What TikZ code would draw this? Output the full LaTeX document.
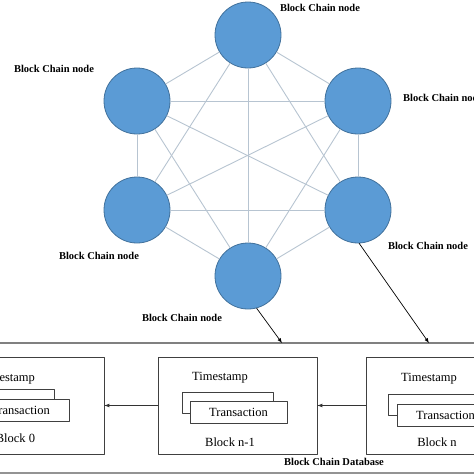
\documentclass[tikz,border=0pt]{standalone}
\usepackage{fontspec}
\setmainfont{Liberation Serif}
\usetikzlibrary{arrows, calc}

\definecolor{peerblue}{HTML}{5B9BD5}
\definecolor{peerrim}{HTML}{41719C}
\definecolor{linkgray}{HTML}{B7C4D1}
\definecolor{framegray}{HTML}{808080}

\begin{document}
\begin{tikzpicture}[x=1pt, y=-1pt, line cap=round, line join=round,
    peer/.style={circle, draw=peerrim, fill=peerblue, line width=0.8pt, minimum size=66pt, inner sep=0pt},
    peerlabel/.style={font=\fontsize{10.5}{12}\selectfont\bfseries, inner sep=0pt},
    blockbox/.style={draw=black!75, line width=0.7pt, minimum width=159pt, minimum height=97pt, inner sep=0pt},
    txback/.style={draw=black!75, line width=0.7pt, minimum width=91pt, minimum height=21pt, inner sep=0pt},
    txbox/.style={draw=black!75, fill=white, line width=0.7pt, minimum width=97pt, minimum height=22pt, inner sep=0pt, font=\fontsize{12.5}{14}\selectfont},
    blocktext/.style={font=\fontsize{12.5}{14}\selectfont, inner sep=0pt}]
    \useasboundingbox (0,0) rectangle (474,474);
    \clip (0,0) rectangle (474,474);

        % Peers
        \draw (248,35) node[peer] (T) {};
        \draw (137,101) node[peer] (UL) {};
        \draw (358,101) node[peer] (UR) {};
        \draw (137,210) node[peer] (LL) {};
        \draw (358,210) node[peer] (LR) {};
        \draw (248,276) node[peer] (B) {};

        % Links
        \foreach \source/\target in {T/UL, T/UR, T/LL, T/LR, T/B, UL/UR, UL/LL, UL/LR, UL/B, UR/LL, UR/LR, UR/B, LL/LR, LL/B, LR/B} {
                \draw[linkgray, line width=0.9pt] (\source) -- (\target);
            }

        \node[peerlabel] (labT) at (320,8) {Block Chain node};
        \node[peerlabel] (labUL) at (54,69) {Block Chain node};
        \node[peerlabel, anchor=west] (labUR) at (403,98) {Block Chain node};
        \node[peerlabel] (labLR) at (428,246) {Block Chain node};
        \node[peerlabel] (labLL) at (99,256) {Block Chain node};
        \node[peerlabel] (labB) at (182,318) {Block Chain node};

        % Database
        \draw[framegray, line width=1.2pt] (-10,343) -- (484,343);
        \draw[framegray!85, line width=3pt] (-10,473) -- (484,473);
        \coordinate (inB) at (282,343);
        \coordinate (inLR) at (429,343);
        \draw[-latex, line width=0.7pt] (B.-75) -- (inB);
        \draw[-latex, line width=0.7pt] (LR.-88) -- (inLR);
        \node[peerlabel] (dbname) at (334,462) {Block Chain Database};

        % Blocks
        \node[blockbox] (blk0) at (24.5,405.5) {};
        \node[blockbox] (blk1) at (237.5,405.5) {};
        \node[blockbox] (blk2) at (445.5,405.5) {};

        \node[txback] (back0) at (8.5,399.5) {};
        \node[txbox] (tx0) at (20.5,410.5) {Transaction};
        \node[blocktext] (ts0) at (7,379) {Timestamp};
        \node[blocktext] (name0) at (15.5,438) {Block 0};

        \node[txback] (back1) at (227.5,402.5) {};
        \node[txbox] (tx1) at (238.5,412) {Transaction};
        \node[blocktext] (ts1) at (220,378) {Timestamp};
        \node[blocktext] (name1) at (230,442) {Block n-1};

        \node[txback] (back2) at (433.5,405) {};
        \node[txbox] (tx2) at (445.5,415.5) {Transaction};
        \node[blocktext] (ts2) at (429,379) {Timestamp};
        \node[blocktext] (name2) at (437,442) {Block n};

        \draw[-latex, black!80, line width=0.7pt] (blk1.west) -- (blk0.east);
        \draw[-latex, black!80, line width=0.7pt] (blk2.west) -- (blk1.east);
\end{tikzpicture}
\end{document}
